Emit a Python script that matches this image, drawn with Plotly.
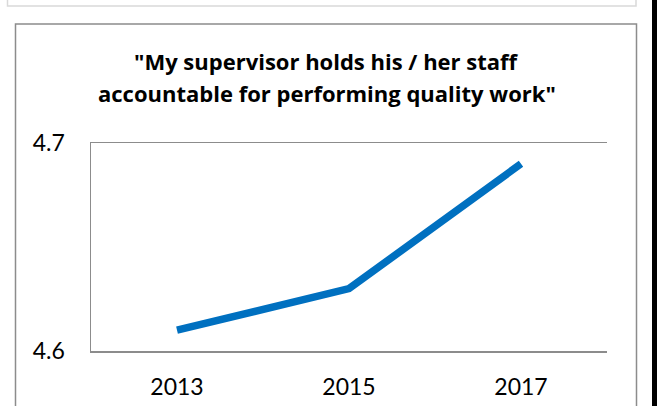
import plotly.graph_objects as go

years = ["2013", "2015", "2017"]
scores = [4.61, 4.63, 4.69]
y_ticks = [4.6, 4.7]
y_tick_labels = ["4.6", "4.7"]
title_lines = ['"My supervisor holds his / her staff', 'accountable for performing quality work"']

W, H = 657, 406
L, R, T, B = 91, 607, 143, 351  # plot area in px
pw, ph = R - L, B - T

def px_x(x):
    return (x - L) / pw

def px_y(y):
    return (B - y) / ph

fig = go.Figure()
fig.add_trace(go.Scatter(
    x=years, y=scores, mode="lines",
    line=dict(color="#0070C0", width=7.5, shape="linear"),
    hoverinfo="skip", showlegend=False,
))

shapes = [
    dict(type="rect", xref="paper", yref="paper",
         x0=px_x(7.5), x1=px_x(636), y0=px_y(6), y1=px_y(-20),
         line=dict(color="#D9D9D9", width=1.5), fillcolor="rgba(0,0,0,0)", layer="below"),
    dict(type="rect", xref="paper", yref="paper",
         x0=px_x(15.5), x1=px_x(636.5), y0=px_y(430), y1=px_y(24),
         line=dict(color="#8C8C8C", width=1.5), fillcolor="rgba(0,0,0,0)", layer="below"),
    dict(type="rect", xref="paper", yref="paper",
         x0=px_x(652), x1=px_x(660), y0=px_y(420), y1=px_y(-20),
         line=dict(width=0), fillcolor="black", layer="above"),
]

annotations = []
for txt, yc in zip(title_lines, [61, 93]):
    annotations.append(dict(
        text="<b>" + txt + "</b>", xref="paper", yref="paper",
        x=px_x(326.5), y=px_y(yc), xanchor="center", yanchor="middle",
        showarrow=False, font=dict(family="Open Sans", size=22, color="black"),
    ))

fig.update_layout(
    width=W, height=H,
    margin=dict(l=L, r=W - R, t=T, b=H - B, pad=0),
    paper_bgcolor="white", plot_bgcolor="white",
    shapes=shapes, annotations=annotations,
    xaxis=dict(
        type="category", range=[-0.5, 2.5],
        showgrid=False, showline=True, mirror=True,
        linecolor="#8C8C8C", linewidth=1.5, zeroline=False,
        ticks="", ticklabelstandoff=15, automargin=False,
        tickfont=dict(family="Lato", size=23, color="black"),
    ),
    yaxis=dict(
        range=[4.6, 4.7], tickvals=y_ticks, ticktext=y_tick_labels,
        showgrid=True, gridcolor="#8C8C8C", gridwidth=1.5,
        showline=True, linecolor="#8C8C8C", linewidth=1.5,
        zeroline=False, ticks="", ticklabelstandoff=20, automargin=False,
        tickfont=dict(family="Lato", size=23, color="black"),
    ),
)

fig.write_html(
    "out.html",
    config={"displayModeBar": False, "staticPlot": True},
    post_script="document.body.style.margin='0px';document.body.style.overflow='hidden';",
)
